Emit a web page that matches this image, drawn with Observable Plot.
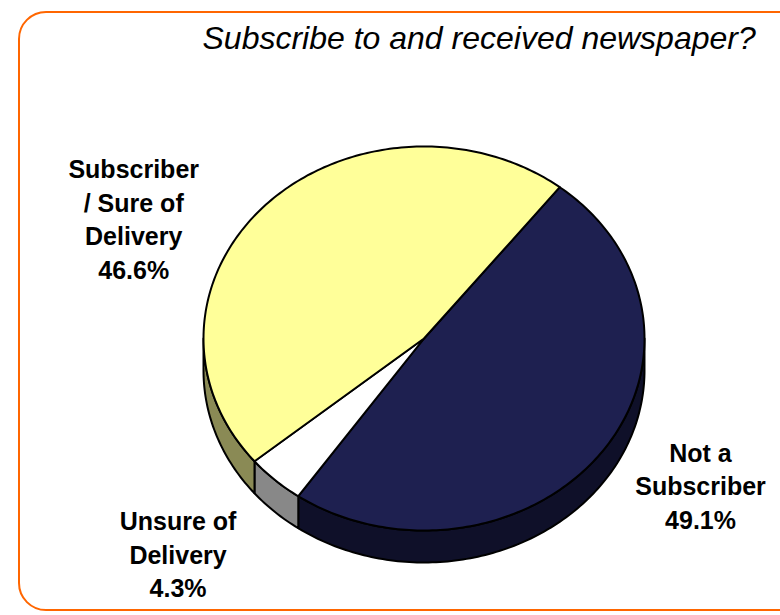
<!DOCTYPE html>
<html>
<head>
<meta charset="utf-8">
<script src="https://cdn.jsdelivr.net/npm/d3@7"></script>
<script src="https://cdn.jsdelivr.net/npm/@observablehq/plot@0.6"></script>
<style>
  html, body { margin: 0; padding: 0; background: #fff; }
  #wrap { position: relative; width: 780px; height: 615px; overflow: hidden; }
  #frame { position: absolute; left: 18px; top: 11px; width: 790px; height: 600px;
           border: 2.5px solid #FF6600; border-radius: 28px; box-sizing: border-box; }
  #chart { position: absolute; left: 0; top: 0; }
</style>
</head>
<body>
<div id="wrap"><div id="frame"></div><div id="chart"></div></div>
<script>
// ---- data ----
const title = "Subscribe to and received newspaper?";
const categories = ["Not a\nSubscriber", "Unsure of\nDelivery", "Subscriber\n/ Sure of\nDelivery"];
const values = [49.1, 4.3, 46.6];
const topColors = ["#1E2050", "#FFFFFF", "#FFFF99"];
const sideColors = ["#0F1029", "#888888", "#8A8A55"];
// ---- layout ----
const startAngle = 38;            // degrees, clockwise from 12 o'clock
const depth = 0.1667;             // side thickness in y-units
const labelOffsets = [[99, 32], [-97, 73], [-132, 13]];

const total = d3.sum(values);
let acc = startAngle;
const slices = values.map((v, i) => {
  const a0 = acc, a1 = acc + v / total * 360;
  acc = a1;
  return {i, a0, a1, mid: (a0 + a1) / 2, value: v, label: categories[i]};
});
const rad = a => a * Math.PI / 180;
const pt = (a, dy = 0) => ({x: Math.sin(rad(a)), y: -Math.cos(rad(a)) + dy});
function arc(a0, a1, dy = 0) {
  const n = Math.max(2, Math.ceil((a1 - a0) / 1));
  return d3.range(n + 1).map(k => pt(a0 + (a1 - a0) * k / n, dy));
}
// top faces
const tops = slices.map(s => [{x: 0, y: 0}, ...arc(s.a0, s.a1), {x: 0, y: 0}]);
// front side faces (visible angles 90..270 and 450..630)
const sides = [];
slices.forEach(s => {
  [[90, 270], [450, 630]].forEach(([lo, hi]) => {
    const b0 = Math.max(s.a0, lo), b1 = Math.min(s.a1, hi);
    if (b1 > b0) {
      const upper = arc(b0, b1);
      const lower = arc(b0, b1, depth).reverse();
      sides.push({i: s.i, pts: [...upper, ...lower, upper[0]]});
    }
  });
});

const labels = slices.map(s => {
  const p = pt(s.mid);
  return {x: p.x, y: p.y, text: s.label + "\n" + s.value.toFixed(1) + "%", i: s.i};
});

const marks = [];
sides.forEach(sd => marks.push(Plot.line(sd.pts, {x: "x", y: "y", fill: sideColors[sd.i], stroke: "black", strokeWidth: 2, strokeLinejoin: "round"})));
tops.forEach((t, i) => marks.push(Plot.line(t, {x: "x", y: "y", fill: topColors[i], stroke: "black", strokeWidth: 2, strokeLinejoin: "round"})));
labels.forEach(l => marks.push(Plot.text([l], {
  x: "x", y: "y", text: "text", dx: labelOffsets[l.i][0], dy: labelOffsets[l.i][1],
  fontSize: 25, fontWeight: "bold", lineHeight: 1.34, lineAnchor: "middle", textAnchor: "middle", fill: "black"
})));
marks.push(Plot.text([title], {
  frameAnchor: "top-left", dx: 202, dy: 48, lineAnchor: "bottom", textAnchor: "start",
  fontSize: 32, fontStyle: "italic", fill: "black"
}));

const chart = Plot.plot({
  width: 780, height: 615, margin: 0,
  style: {fontFamily: "'Liberation Sans', Arial, sans-serif", background: "transparent", overflow: "visible"},
  x: {domain: [-1, 1], range: [203, 644], axis: null},
  y: {domain: [-1, 1], range: [146, 530], axis: null},
  marks
});
document.getElementById("chart").appendChild(chart);
</script>
</body>
</html>
